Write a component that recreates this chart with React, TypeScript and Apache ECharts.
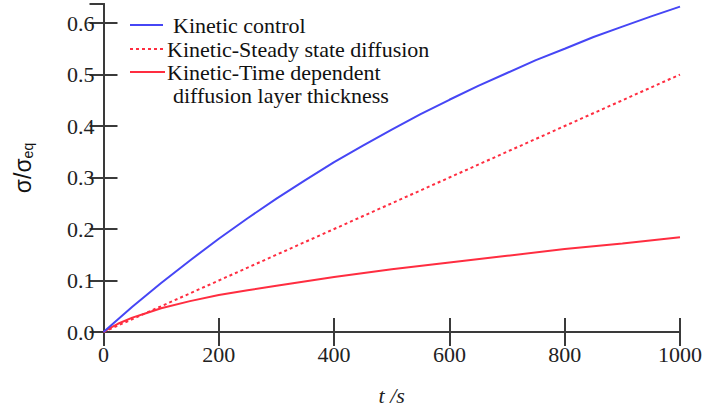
import React, { useEffect, useRef } from "react";
import * as echarts from "echarts";

// time (s) and values
const blueT = [0, 50, 100, 150, 200, 250, 300, 350, 400, 450, 500, 550, 600, 650, 700, 750, 800, 850, 900, 950, 1000];
const blueV = [0, 0.049, 0.095, 0.139, 0.181, 0.221, 0.259, 0.295, 0.33, 0.362, 0.393, 0.423, 0.451, 0.478, 0.503, 0.528, 0.55, 0.573, 0.593, 0.613, 0.632];

const dotT = [0, 200, 400, 600, 800, 1000];
const dotV = [0, 0.1, 0.2, 0.3, 0.4, 0.5];

const redT = [0, 10, 25, 50, 75, 100, 150, 200, 250, 300, 400, 500, 600, 700, 800, 900, 1000];
const redV = [0, 0.007, 0.016, 0.028, 0.037, 0.046, 0.06, 0.072, 0.081, 0.09, 0.107, 0.122, 0.135, 0.148, 0.161, 0.172, 0.184];

const seriesNames = ["Kinetic control", "Kinetic-Steady state diffusion", "Kinetic-Time dependent"];
const legendExtra = "diffusion layer thickness";

const BLUE = "#4646f5";
const RED = "#ff2d40";
const AX = "#3a3a3a";
const SERIF = "Liberation Serif";
const SANS = "Liberation Sans";

const pairs = (t: number[], v: number[]) => t.map((x, i) => [x, v[i]]);

export default function App() {
  const ref = useRef<HTMLDivElement>(null);
  useEffect(() => {
    if (!ref.current) return;
    const chart = echarts.init(ref.current, null, { renderer: "svg" });
    const axisLine = { show: true, lineStyle: { color: AX, width: 2 } };
    const tick = { show: true, inside: true, length: 14, lineStyle: { color: AX, width: 2 } };
    const serifRich = { s: { fontFamily: SERIF, fontSize: 22, color: "#222" } };
    chart.setOption({
      animation: false,
      backgroundColor: "#fff",
      textStyle: { fontFamily: SERIF },
      grid: { left: 103.5, right: 19, top: 4, bottom: 84, containLabel: false },
      xAxis: [
        {
          type: "value", min: 0, max: 1000, interval: 200, position: "bottom",
          axisLine, axisTick: tick, splitLine: { show: false },
          axisLabel: {
            fontFamily: SERIF, fontSize: 22, color: "#222", margin: 11, rich: serifRich,
            formatter: (v: number) => `{s|${v}}`,
          },
          name: "t /s", nameLocation: "middle", nameGap: 52,
          nameTextStyle: { fontFamily: SERIF, fontStyle: "italic", fontSize: 22, color: "#222" },
        },
        {
          type: "value", min: 0, max: 1000, interval: 200, position: "top",
          axisLine, axisTick: tick, splitLine: { show: false }, axisLabel: { show: false },
        },
      ],
      yAxis: [
        {
          type: "value", min: 0, max: 0.637, interval: 0.1, position: "left",
          axisLine, axisTick: tick, splitLine: { show: false },
          axisLabel: {
            fontFamily: SERIF, fontSize: 22, color: "#222", margin: 9, showMaxLabel: false, rich: serifRich,
            formatter: (v: number) => `{s|${v.toFixed(1)}}`,
          },
          name: "{a|σ/σ}{b|eq}", nameLocation: "middle", nameGap: 69, nameRotate: 90,
          nameTextStyle: {
            fontFamily: SANS,
            rich: {
              a: { fontFamily: SANS, fontSize: 23, color: "#111" },
              b: { fontFamily: SANS, fontSize: 14, color: "#111", verticalAlign: "bottom", padding: [8, 0, 0, 0] },
            },
          },
        },
        {
          type: "value", min: 0, max: 0.637, interval: 0.1, position: "right",
          axisLine, axisTick: tick, splitLine: { show: false }, axisLabel: { show: false },
        },
      ],
      series: [
        {
          name: seriesNames[0], type: "line", data: pairs(blueT, blueV), showSymbol: false,
          lineStyle: { color: BLUE, width: 2 }, itemStyle: { color: BLUE }, z: 3,
        },
        {
          name: seriesNames[1], type: "line", data: pairs(dotT, dotV), showSymbol: false,
          lineStyle: { color: RED, width: 2, type: [3, 3] }, itemStyle: { color: RED }, z: 2,
        },
        {
          name: seriesNames[2], type: "line", data: pairs(redT, redV), showSymbol: false,
          lineStyle: { color: RED, width: 2 }, itemStyle: { color: RED }, z: 2,
        },
      ],
      graphic: [
        { type: "line", shape: { x1: 130, y1: 25, x2: 163, y2: 25 }, style: { stroke: BLUE, lineWidth: 2 } },
        { type: "line", shape: { x1: 130, y1: 49, x2: 165, y2: 49 }, style: { stroke: RED, lineWidth: 2, lineDash: [3, 3] } },
        { type: "line", shape: { x1: 130, y1: 72, x2: 165, y2: 72 }, style: { stroke: RED, lineWidth: 2 } },
        { type: "text", x: 173, y: 25, style: { text: seriesNames[0], font: `22px ${SERIF}`, fill: "#111", verticalAlign: "middle" } },
        { type: "text", x: 167, y: 49, style: { text: seriesNames[1], font: `22px ${SERIF}`, fill: "#111", verticalAlign: "middle" } },
        { type: "text", x: 167, y: 72, style: { text: seriesNames[2], font: `22px ${SERIF}`, fill: "#111", verticalAlign: "middle" } },
        { type: "text", x: 173, y: 95, style: { text: legendExtra, font: `22px ${SERIF}`, fill: "#111", verticalAlign: "middle" } },
      ],
    });
    return () => chart.dispose();
  }, []);
  return <div ref={ref} style={{ width: 705, height: 416, position: "fixed", left: 0, top: 0 }} />;
}
